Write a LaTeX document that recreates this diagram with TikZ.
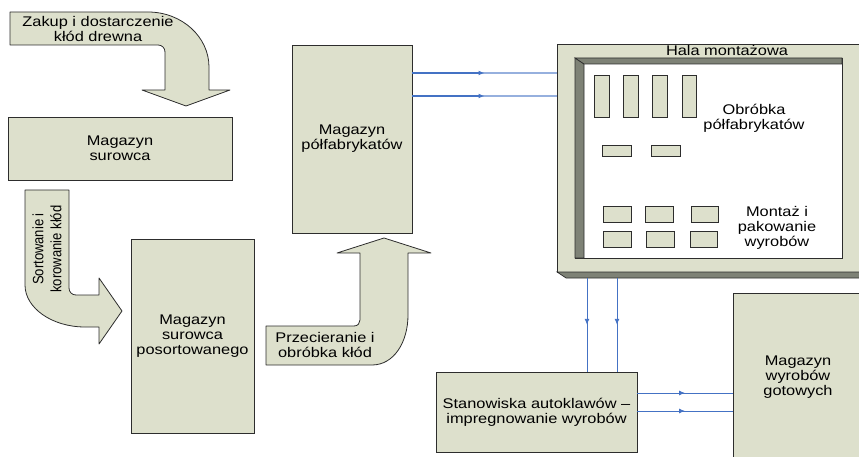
\documentclass[tikz,border=0pt]{standalone}
\usepackage{fontspec}
\setmainfont{Liberation Sans}[FakeStretch=1.17]
\newfontfamily\sidefont{Liberation Sans}[FakeStretch=0.87]
\usetikzlibrary{calc,arrows.meta,decorations.markings}
\definecolor{panel}{RGB}{221,224,204}
\definecolor{bevel}{RGB}{126,130,118}
\definecolor{edge}{RGB}{45,45,45}
\definecolor{flowdark}{RGB}{68,114,196}
\definecolor{flowlight}{RGB}{150,176,222}
\begin{document}
\begin{tikzpicture}[x=1pt,y=-1pt,
  txt/.style={align=center,font=\fontsize{14}{15}\selectfont,inner sep=0pt},
  box/.style={draw=edge,fill=panel,line width=0.8pt,inner sep=0pt,txt},
  blockarrow/.style={draw=edge,fill=panel,line width=0.8pt,line join=round},
  unit/.style={draw=edge,fill=panel,line width=0.7pt},
  bevelface/.style={draw=edge,fill=bevel,line width=0.7pt},
  tip/.style={-{Latex[length=6pt,width=5pt]}},
  flow/.style={draw=flowdark,line width=0.9pt,postaction={decorate},
    decoration={markings,mark=at position 0.5 with {\arrow{Latex[length=6pt,width=5pt]}}}},
  flowback/.style={draw=flowlight,line width=1.1pt},
  flowfront/.style={draw=flowdark,line width=1.4pt,tip}]
\useasboundingbox (0,0) rectangle (859,457);

% ---- storage boxes ----
\node[box,minimum width=224,minimum height=63] (sur) at (120,148.5) {Magazyn\\surowca};
\node[box,minimum width=123,minimum height=194] (pos) at (192.5,336) {Magazyn\\surowca\\posortowanego};
\node[box,minimum width=120,minimum height=188] (polf) at (352,139) {Magazyn\\półfabrykatów};
\node[box,minimum width=201,minimum height=80] (stan) at (536.5,412) {Stanowiska autoklawów –\\impregnowanie wyrobów};
\node[box,minimum width=130,minimum height=168] (gotowe) at (798,377) {Magazyn\\wyrobów\\gotowych};

% ---- curved block arrows ----
\filldraw[blockarrow] (10,12) -- (148,12) .. controls (182,12) and (209,37) .. (209,67)
  -- (209,90) -- (230,90) -- (186,106) -- (142,90) -- (165,90) -- (165,52)
  .. controls (165,48) and (162,45) .. (158,45) -- (10,45) -- cycle;
\node[txt] (buy) at (98,28.5) {Zakup i dostarczenie\\kłód drewna};

\filldraw[blockarrow] (25,190) -- (69,190) -- (69,288) .. controls (69,292) and (72,295) .. (76,295)
  -- (99,295) -- (99,278) -- (122,311) -- (99,344) -- (99,327) -- (85,327)
  .. controls (52,327) and (25,308) .. (25,285) -- cycle;
\node[txt,rotate=90,font=\sidefont\fontsize{15}{18}\selectfont] (sort) at (47,249) {Sortowanie i\\korowanie kłód};

\filldraw[blockarrow] (266,326) -- (354,326) .. controls (358,326) and (360,323) .. (360,320)
  -- (360,253) -- (337,253) -- (384,238) -- (431,253) -- (408,253) -- (408,315)
  .. controls (408,342) and (394,365) .. (372,365) -- (266,365) -- cycle;
\node[txt] (saw) at (325,345) {Przecieranie i\\obróbka kłód};

% ---- assembly hall ----
\node[draw=edge,fill=panel,line width=0.8pt,minimum width=306,minimum height=228,inner sep=0pt] (hala) at (710,158) {};
\filldraw[bevelface] (557,272) -- (566,278) -- (863,278) -- (863,272) -- cycle;
\coordinate (halabase) at (710,278);
\filldraw[draw=edge,fill=white,line width=0.7pt] (575,58) rectangle (842,258);
\filldraw[bevelface] (575,58) -- (584,64) -- (584,258) -- (575,258) -- cycle;
\filldraw[bevelface] (575,58) -- (842,58) -- (842,64) -- (584,64) -- cycle;
\node[txt] (halatitle) at (727,50) {Hala montażowa};

% machining stations
\foreach \a/\b in {594/609,623/638,652/667,682/696}
  \filldraw[unit] (\a,75) rectangle (\b,117);
\foreach \a/\b in {602/631,651/680}
  \filldraw[unit] (\a,145) rectangle (\b,156);
% assembly and packing stations
\foreach \a/\b in {603/631,645/673,691/718}
  \filldraw[unit] (\a,206) rectangle (\b,222);
\foreach \a/\b in {603/631,646/674,690/717}
  \filldraw[unit] (\a,231) rectangle (\b,247);
\node[txt] (obr) at (754,118) {Obróbka\\półfabrykatów};
\node[txt] (mont) at (777,228) {Montaż i\\pakowanie\\wyrobów};

% ---- material flows ----
\foreach \yy in {73,96} {
  \draw[flowback] (polf.east |- 0,\yy) -- (hala.west |- 0,\yy);
  \draw[flowfront] (polf.east |- 0,\yy) -- ($(polf.east |- 0,\yy)!0.5!(hala.west |- 0,\yy)$);
}
\foreach \xx in {587,617}
  \draw[flow] (halabase -| \xx,0) -- (stan.north -| \xx,0);
\foreach \yy in {393,411}
  \draw[flow] (stan.east |- 0,\yy) -- (gotowe.west |- 0,\yy);
\end{tikzpicture}
\end{document}
